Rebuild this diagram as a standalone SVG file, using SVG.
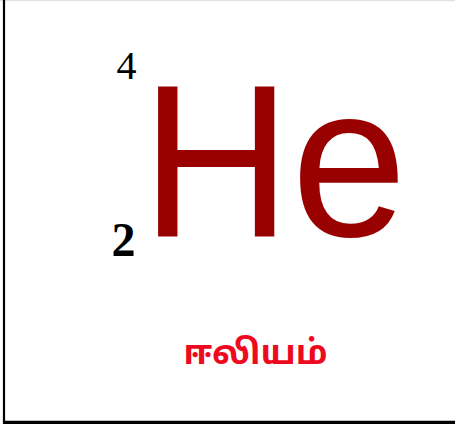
<svg xmlns="http://www.w3.org/2000/svg" width="455" height="427" viewBox="0 0 455 427">
  <style>
    .sym { font-family: "Liberation Sans", Arial, sans-serif; font-size: 208px; fill: #990000; }
    .num { font-family: "Liberation Serif", "Times New Roman", serif; fill: #000000; }
    .name { font-family: "Noto Sans Tamil", "Noto Sans", "Lohit Tamil", sans-serif; font-weight: bold; font-size: 34px; fill: #ee0a1e; }
  </style>
  <rect x="0" y="0" width="455" height="427" fill="#ffffff"/>
  <g id="frame">
    <line x1="0" y1="0.5" x2="455" y2="0.5" stroke="#e2e2e2" stroke-width="1.5"/>
    <line x1="4" y1="0" x2="4" y2="424" stroke="#000000" stroke-width="2.2"/>
    <line x1="3" y1="422.4" x2="455" y2="422.4" stroke="#000000" stroke-width="3.2"/>
  </g>
  <g id="mass-number">
    <text class="num" x="116.5" y="79" font-size="40">4</text>
  </g>
  <g id="atomic-number">
    <text class="num" x="111.5" y="256" font-size="48" font-weight="bold">2</text>
  </g>
  <g id="symbol">
    <text class="sym" transform="translate(141,236) scale(1,1.048)" x="0" y="0">He</text>
  </g>
  <g id="name">
    <text class="name" x="255.5" y="364" text-anchor="middle">ஈலியம்</text>
  </g>
</svg>
